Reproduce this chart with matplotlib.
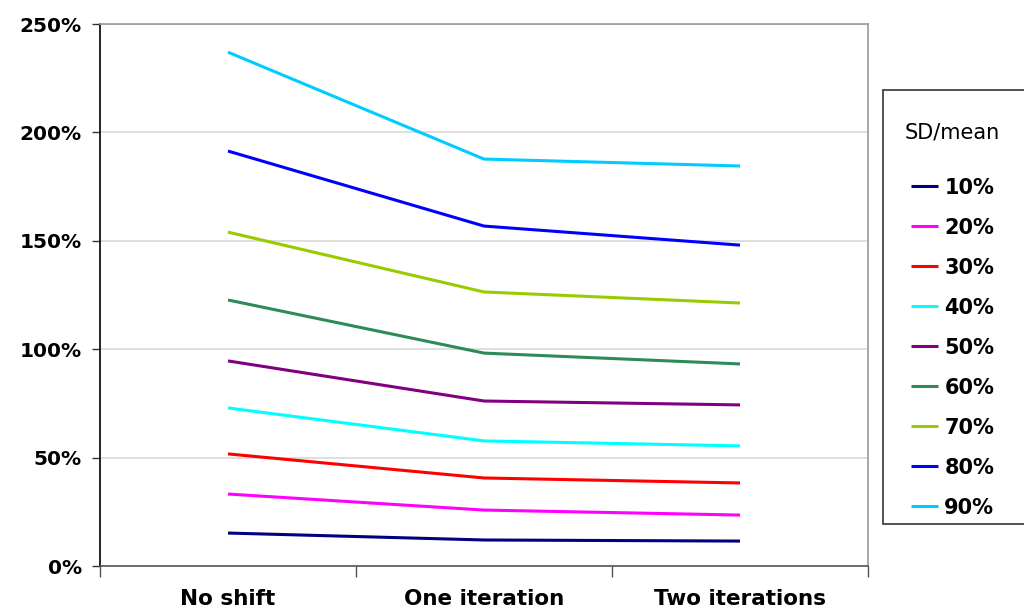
import numpy as np
import matplotlib.pyplot as plt
from matplotlib.patches import Rectangle
from matplotlib.ticker import FixedLocator, FuncFormatter

# Stages of the shift procedure
stages = ['No shift', 'One iteration', 'Two iterations']

# Coefficient of variation (SD/mean) of each series
sd_labels = ['10%', '20%', '30%', '40%', '50%', '60%', '70%', '80%', '90%']

# Values in percent, one list per series
sd10 = [15.2, 12.0, 11.5]
sd20 = [33.2, 25.8, 23.5]
sd30 = [51.7, 40.6, 38.3]
sd40 = [72.9, 57.7, 55.4]
sd50 = [94.6, 76.1, 74.3]
sd60 = [122.7, 98.2, 93.2]
sd70 = [154.0, 126.4, 121.3]
sd80 = [191.4, 156.8, 148.0]
sd90 = [237.0, 187.7, 184.5]
series = [sd10, sd20, sd30, sd40, sd50, sd60, sd70, sd80, sd90]

colors = ['#000080', '#FF00FF', '#FF0000', '#00FFFF', '#800080',
          '#2E8B57', '#99CC00', '#0000FF', '#00CCFF']

W, H = 1024, 610
fig = plt.figure(figsize=(W/100, H/100), dpi=100)
ax = fig.add_axes([100/W, 44/H, 768/W, 542/H])

x = np.arange(len(stages))
for vals, lab, c in zip(series, sd_labels, colors):
    ax.plot(x, vals, color=c, lw=2.2, label=lab, solid_capstyle='butt')

ax.set_xlim(-0.5, 2.5)
ax.set_ylim(0, 250)

# y axis: percentages with light grid lines
ax.set_yticks(np.arange(0, 251, 50))
ax.yaxis.set_major_formatter(FuncFormatter(lambda v, p: '%d%%' % v))
ax.grid(axis='y', color='#d9d9d9', lw=1.2)
ax.set_axisbelow(True)
ax.tick_params(axis='y', length=6, width=1, pad=7, labelsize=14.5, color='#333333')
for t in ax.get_yticklabels():
    t.set_fontweight('bold')

# x axis: tick marks between categories, labels centred on categories
ax.xaxis.set_major_locator(FixedLocator([-0.5, 0.5, 1.5, 2.5]))
ax.xaxis.set_major_formatter(FuncFormatter(lambda v, p: ''))
ax.xaxis.set_minor_locator(FixedLocator(x))
ax.set_xticklabels(stages, minor=True, fontsize=15.5, fontweight='bold')
ax.tick_params(axis='x', which='major', length=8, width=1, color='#555555')
ax.tick_params(axis='x', which='minor', length=0, pad=16.5)

for s in ['top', 'right']:
    ax.spines[s].set_color('#9a9a9a')
ax.spines['left'].set_color('#000000')
ax.spines['bottom'].set_color('#555555')
for s in ax.spines.values():
    s.set_linewidth(1.2)

# legend frame runs off the right edge of the figure
fig.patches.append(Rectangle((883/W, 86/H), 160/W, 434/H, transform=fig.transFigure,
                             facecolor='white', edgecolor='#333333', lw=1.2, zorder=1))
leg = fig.legend(loc='upper left', bbox_to_anchor=(905/W, 1 - 123/H),
                 title='SD/mean', frameon=False,
                 prop={'weight': 'bold', 'size': 15}, title_fontsize=15,
                 handlelength=1.3, handletextpad=0.3, labelspacing=0.96,
                 borderpad=0, borderaxespad=0)
leg.set_zorder(2)
leg._legend_box.sep = 25

fig.savefig('out.png', dpi=100)
